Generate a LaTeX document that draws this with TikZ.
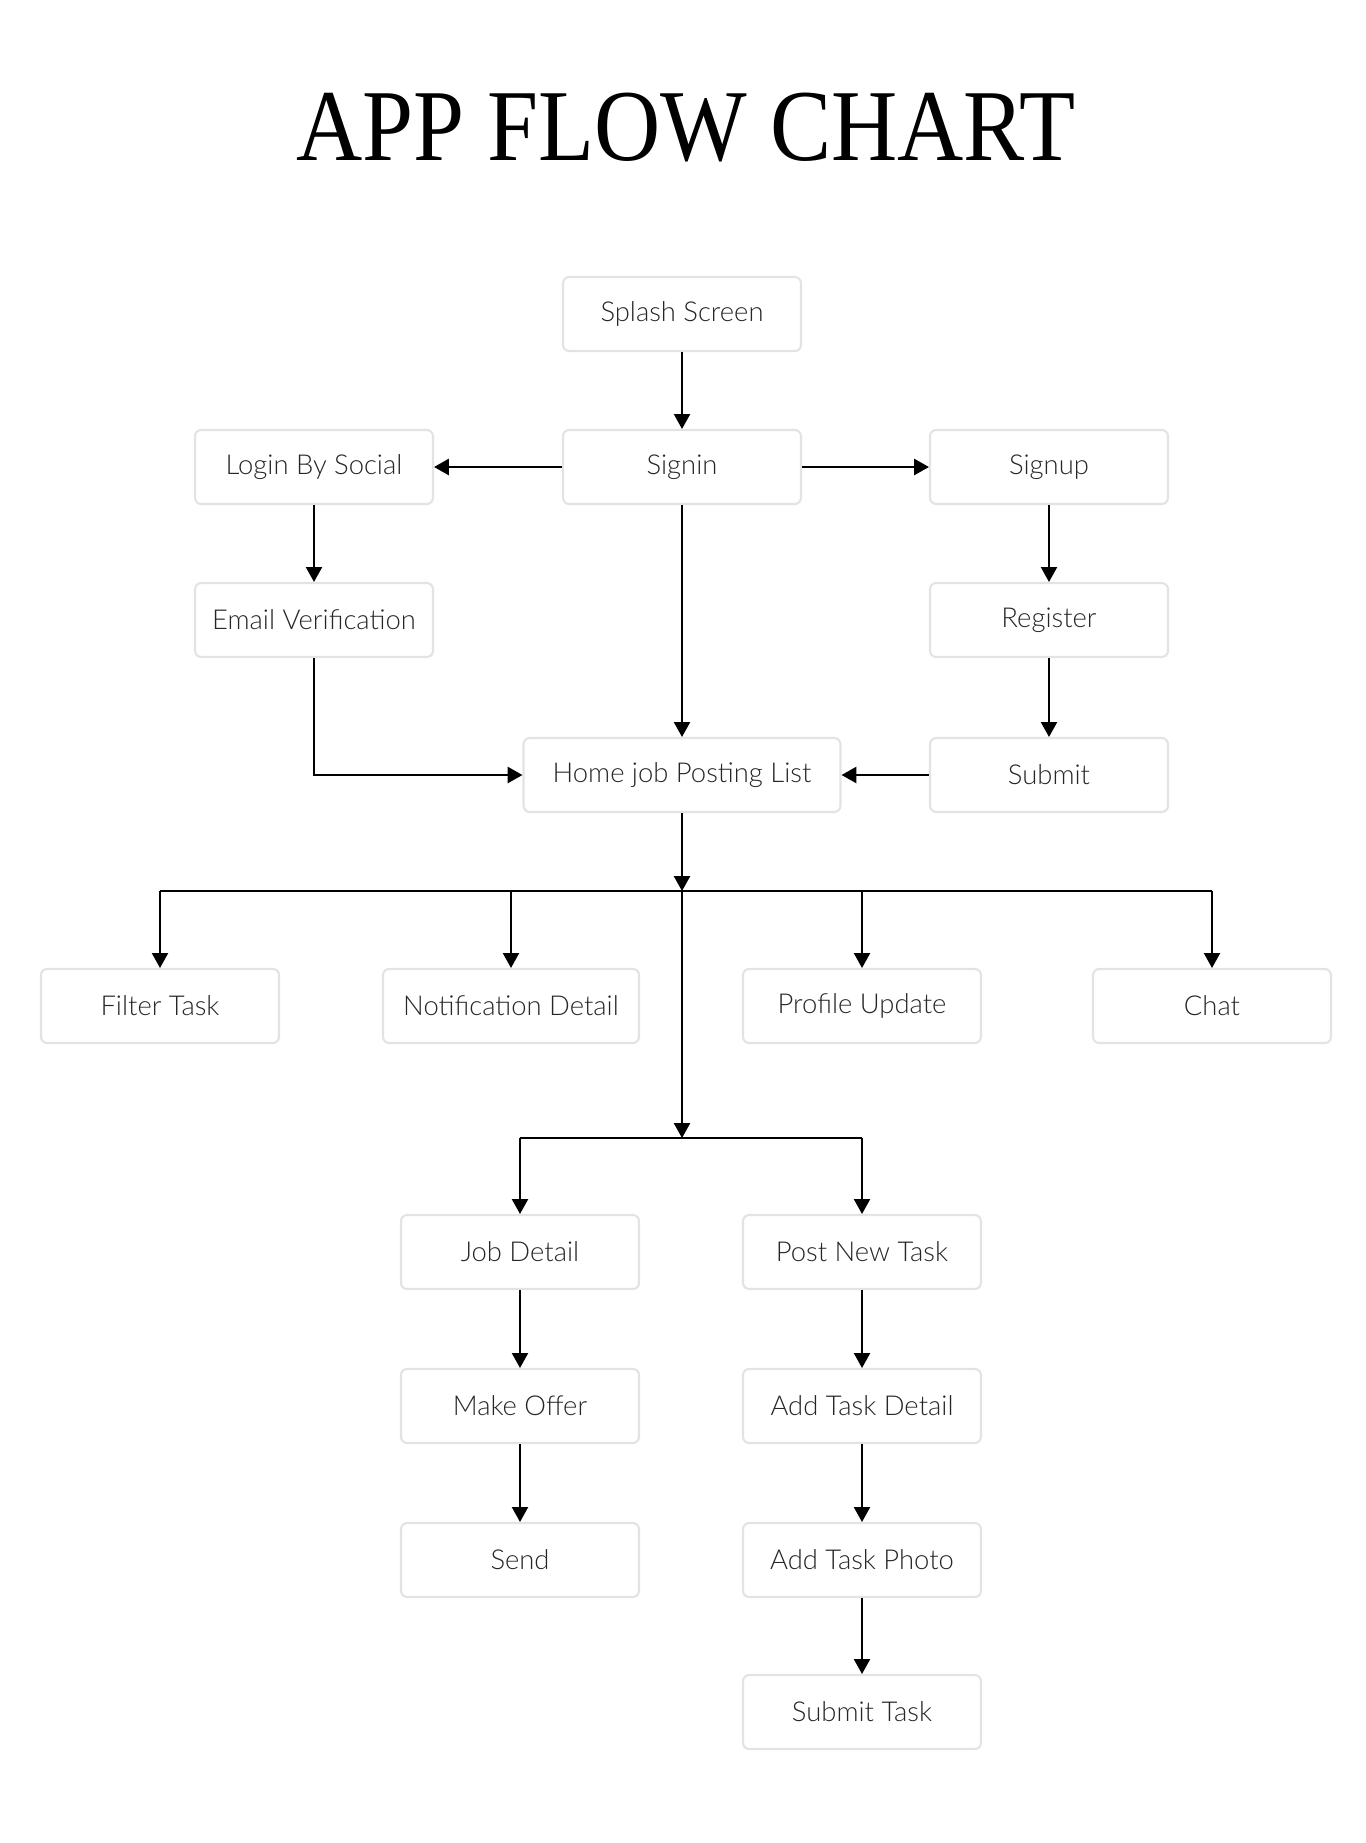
\documentclass[tikz,border=0pt]{standalone}
\usepackage{fontspec}
\setmainfont{Lato Light}
\newfontfamily\titlefont{Liberation Serif}
\usepackage{tikz}
\usetikzlibrary{arrows.meta}
\definecolor{boxline}{HTML}{E3E3E3}
\definecolor{boxtext}{HTML}{262626}

\begin{document}
\begin{tikzpicture}[x=0.02cm,y=-0.02cm,
  screen/.style={draw=boxline,line width=1.2pt,rounded corners=3.5pt,fill=white,
    minimum width=4.76cm,minimum height=1.48cm,inner sep=0pt,text=boxtext,
    font=\fontsize{15.6}{18}\selectfont},
  flow/.style={line width=.95pt,->,>={Triangle[length=8.5pt,width=9.2pt]}},
  hflow/.style={flow,line width=1.35pt},
  bar/.style={line width=1.35pt}]
\useasboundingbox (0,0) rectangle (1366,1843);
%title
\node[anchor=base,font=\titlefont\fontsize{58}{62}\selectfont] (title) at (686,160) {\scalebox{.9}[1]{APP FLOW CHART}};
%start and login screens
\node[screen] (splash) at (682,314) {Splash Screen};
\node[screen] (signin) at (682,467) {Signin};
\node[screen] (login) at (314,467) {Login By Social};
\node[screen] (signup) at (1049,467) {Signup};
\node[screen] (email) at (314,620) {Email Verification};
\node[screen] (register) at (1049,620) {Register};
\node[screen,minimum width=6.34cm] (home) at (682,775) {Home job Posting List};
\node[screen] (submit) at (1049,775) {Submit};
%first row under home
\node[screen] (filter) at (160,1006) {Filter Task};
\node[screen,minimum width=5.12cm] (notif) at (511,1006) {Notification Detail};
\node[screen] (profile) at (862,1006) {Profile Update};
\node[screen] (chat) at (1212,1006) {Chat};
%job branch
\node[screen] (job) at (520,1252) {Job Detail};
\node[screen] (offer) at (520,1406) {Make Offer};
\node[screen] (send) at (520,1560) {Send};
%task branch
\node[screen] (post) at (862,1252) {Post New Task};
\node[screen] (taskdetail) at (862,1406) {Add Task Detail};
\node[screen] (taskphoto) at (862,1560) {Add Task Photo};
\node[screen] (subtask) at (862,1712) {Submit Task};
%split points
\coordinate (split1) at (682,891);
\coordinate (split2) at (682,1138);
%arrows of the login part
\draw[flow] (splash) -- (signin);
\draw[hflow] (signin) -- (login);
\draw[hflow] (signin) -- (signup);
\draw[flow] (login) -- (email);
\draw[flow] (signup) -- (register);
\draw[flow] (register) -- (submit);
\draw[flow] (signin) -- (home);
\draw[hflow] (email) |- (home);
\draw[hflow] (submit) -- (home);
%first split
\draw[flow] (home) -- (split1);
\draw[bar] (filter.north |- split1) -- (chat.north |- split1);
\foreach \s in {filter,notif,profile,chat}
  \draw[flow] (\s.north |- split1) -- (\s);
%second split
\draw[flow] (split1) -- (split2);
\draw[bar] (job.north |- split2) -- (post.north |- split2);
\foreach \s in {job,post}
  \draw[flow] (\s.north |- split2) -- (\s);
%chains
\draw[flow] (job) -- (offer);
\draw[flow] (offer) -- (send);
\draw[flow] (post) -- (taskdetail);
\draw[flow] (taskdetail) -- (taskphoto);
\draw[flow] (taskphoto) -- (subtask);
\end{tikzpicture}
\end{document}
